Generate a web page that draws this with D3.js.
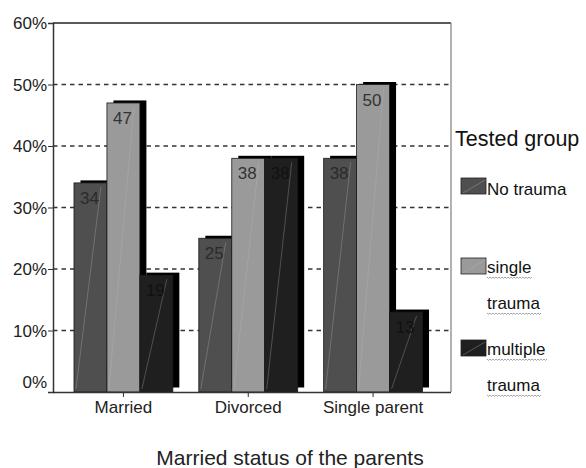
<!DOCTYPE html>
<html><head><meta charset="utf-8">
<script src="https://cdn.jsdelivr.net/npm/d3@7"></script>
<style>body{margin:0;background:#fff}svg{display:block}text{font-family:"Liberation Sans",Arial,sans-serif}</style>
</head><body><svg id="c" width="586" height="468"></svg>
<script>
const categories = ["Married", "Divorced", "Single parent"];
const seriesNames = ["No trauma", "single trauma", "multiple trauma"];
const noTrauma = [34, 25, 38];
const singleTrauma = [47, 38, 50];
const multipleTrauma = [19, 38, 13];
const yTicks = [0, 10, 20, 30, 40, 50, 60];
const series = [noTrauma, singleTrauma, multipleTrauma];
const colors = ["#4f4f4f", "#9a9a9a", "#1f1f1f"];
const labelColors = ["#2a2a2a", "#333", "#111"];

const svg = d3.select("#c");
const L = 53, R = 451, T = 23, B = 392;
const y = d3.scaleLinear().domain([0, 60]).range([B, T]);
const x0 = d3.scaleBand().domain(categories).range([61, 435.5]).paddingInner(0.208).paddingOuter(0.104);
const x1 = d3.scaleBand().domain(d3.range(3)).range([0, x0.bandwidth()]);

// gridlines
svg.append("g").selectAll("line").data(yTicks.filter(t => t > 0 && t < 60)).join("line")
  .attr("x1", L).attr("x2", R).attr("y1", d => y(d)).attr("y2", d => y(d))
  .attr("stroke", "#333").attr("stroke-width", 1.4).attr("stroke-dasharray", "4.5,4");
// top and right border
svg.append("line").attr("x1", L).attr("x2", R).attr("y1", y(60)).attr("y2", y(60)).attr("stroke", "#222").attr("stroke-width", 1.3);
svg.append("line").attr("x1", R).attr("x2", R).attr("y1", y(60)).attr("y2", B).attr("stroke", "#888").attr("stroke-width", 1.3);

// bars
const dx = 6.5, dy = -2.5;
categories.forEach((c, ci) => {
  series.forEach((s, si) => {
    const v = s[ci];
    const bx = x0(c) + x1(si), bw = x1.bandwidth(), by = y(v), bh = B - y(v);
    svg.append("rect").attr("x", bx + dx).attr("y", by + dy).attr("width", bw).attr("height", bh - 2).attr("fill", "#000");
  });
});
categories.forEach((c, ci) => {
  series.forEach((s, si) => {
    const v = s[ci];
    const bx = x0(c) + x1(si), bw = x1.bandwidth(), by = y(v), bh = B - y(v);
    const g = svg.append("g");
    g.append("rect").attr("x", bx).attr("y", by).attr("width", bw).attr("height", bh)
      .attr("fill", colors[si]).attr("stroke", "#1a1a1a").attr("stroke-width", 0.8);
    g.append("line").attr("x1", bx + 2).attr("y1", B - 3).attr("x2", bx + bw - 6).attr("y2", by + 4)
      .attr("stroke", "#bbb").attr("stroke-width", 0.7).attr("opacity", 0.45);
    g.append("text").attr("x", bx + bw / 2 - 1).attr("y", by + 21).attr("text-anchor", "middle")
      .attr("font-size", 17).attr("fill", labelColors[si]).text(v);
  });
});

// y axis
const yAxis = d3.axisLeft(y).tickValues(yTicks).tickSize(5).tickFormat(d => d + "%");
const ya = svg.append("g").attr("transform", `translate(${L},0)`).call(yAxis);
ya.select(".domain").attr("stroke", "#333").attr("stroke-width", 1.5);
ya.selectAll(".tick line").attr("stroke", "#333");
ya.selectAll(".tick text").attr("font-size", 17).attr("fill", "#222").attr("x", -6)
  .attr("font-family", '"Liberation Sans",Arial,sans-serif')
  .attr("dy", d => d === 0 ? "-0.25em" : "0.35em");

// x axis
const xAxis = d3.axisBottom(x0).tickSize(5).tickSizeOuter(0);
const xa = svg.append("g").attr("transform", `translate(0,${B})`).call(xAxis);
xa.select(".domain").attr("stroke", "#333").attr("stroke-width", 1.5).attr("d", `M${L},0.5H${R}`);
xa.selectAll(".tick line").attr("stroke", "#333");
xa.selectAll(".tick text").attr("font-size", 17).attr("fill", "#222").attr("y", 9)
  .attr("font-family", '"Liberation Sans",Arial,sans-serif');

svg.append("text").attr("x", 290).attr("y", 465).attr("text-anchor", "middle")
  .attr("font-size", 21).attr("fill", "#222").text("Married status of the parents");

// legend
svg.append("text").attr("x", 455).attr("y", 146).attr("font-size", 21.5).attr("fill", "#111").text("Tested group");
const legendItems = [
  {lines: ["No trauma"], sy: 178, wavy: false},
  {lines: ["single", "trauma"], sy: 258, wavy: true},
  {lines: ["multiple", "trauma"], sy: 340, wavy: true}
];
function wavyPath(x, yy, w) {
  let p = `M${x},${yy}`;
  for (let i = 0; i < w; i += 3) p += ` l1.5,1.4 l1.5,-1.4`;
  return p;
}
legendItems.forEach((it, i) => {
  svg.append("rect").attr("x", 461).attr("y", it.sy).attr("width", 25).attr("height", 16)
    .attr("fill", colors[i]).attr("stroke", "#222").attr("stroke-width", 0.8);
  svg.append("line").attr("x1", 463).attr("y1", it.sy + 15).attr("x2", 485).attr("y2", it.sy + 2)
    .attr("stroke", "#bbb").attr("stroke-width", 0.7).attr("opacity", 0.5);
  it.lines.forEach((ln, li) => {
    const ty = it.sy + (it.wavy ? 15 : 17) + li * 36;
    const t = svg.append("text").attr("x", 487).attr("y", ty).attr("font-size", 17).attr("fill", "#111").text(ln);
    if (it.wavy) {
      const w = t.node().getComputedTextLength();
      svg.append("path").attr("d", wavyPath(487, ty + 4, w)).attr("fill", "none").attr("stroke", "#999").attr("stroke-width", 0.9);
    }
  });
});
</script></body></html>
